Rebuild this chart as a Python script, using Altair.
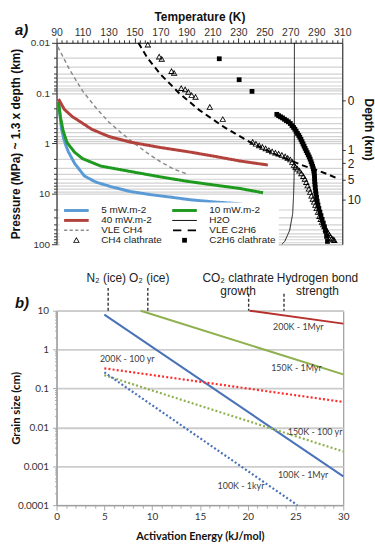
import altair as alt
import pandas as pd

# ------------------------------------------------------------------ panel a data
# legend entries (listed column by column: left column first, then right column)
SERIES = ["5 mW.m-2", "40 mW.m-2", "VLE CH4", "CH4 clathrate",
          "10 mW.m-2", "H2O", "VLE C2H6", "C2H6 clathrate"]
SERIES_COLORS = ["#5b9bd5", "#b3423d", "#8c8c8c", "#000000",
                 "#1e9a1e", "#000000", "#000000", "#000000"]
LINE_SERIES = ["5 mW.m-2", "10 mW.m-2", "40 mW.m-2", "H2O", "VLE CH4", "VLE C2H6"]
LINE_COLORS = ["#5b9bd5", "#1e9a1e", "#b3423d", "#000000", "#8c8c8c", "#000000"]
LINE_DASH = [[1, 0], [1, 0], [1, 0], [1, 0], [4, 3], [6, 4]]

flux5_T = [91.5, 92.5, 93.8, 95.5, 97.5, 99.2, 104, 111.4, 120, 132, 147, 163, 180, 193, 212, 231, 249]
flux5_P = [0.14, 0.25, 0.5, 0.8, 1.15, 1.48, 2.5, 4.4, 5.8, 7.2, 9.0, 10.4, 11.8, 13.1, 14.5, 15.7, 18.8]

flux10_T = [91.5, 93, 95, 98, 103.8, 110, 124, 147, 170, 190, 210, 231, 249]
flux10_P = [0.15, 0.3, 0.55, 0.95, 1.48, 2.0, 2.8, 3.6, 4.6, 5.6, 6.6, 7.8, 9.5]

flux40_T = [91.5, 96, 102, 109, 117, 130, 147, 170, 193, 212, 231, 252.7]
flux40_P = [0.13, 0.21, 0.29, 0.38, 0.52, 0.72, 0.94, 1.2, 1.48, 1.8, 2.22, 2.67]

h2o_T = [273.15, 273.1, 272.9, 272.5, 271.8, 269.5, 265.7, 263.5]
h2o_P = [0.01, 1, 5, 11, 25, 53, 88, 100]

vle_ch4_T = [91, 100, 110, 120, 130, 140, 150, 160, 170, 180, 191.5]
vle_ch4_P = [0.012, 0.034, 0.09, 0.19, 0.37, 0.62, 1.0, 1.55, 2.3, 3.2, 4.1]

vle_c2h6_T = [153, 160, 170, 184.6, 200, 220, 231, 240, 260, 280, 292, 300, 306]
vle_c2h6_P = [0.01, 0.02, 0.042, 0.101, 0.217, 0.49, 0.71, 0.97, 1.7, 2.75, 3.5, 4.2, 4.9]

ch4_clath_T = [160.3, 169, 171, 178.5, 180.5, 186, 189, 191.5, 194, 197, 208, 218,
               241, 243.5, 246, 248.5, 251, 253.5, 256, 258.5, 261, 263.5, 266, 268, 270,
               271.5, 272.8, 274, 275.5, 277, 278.5, 280, 281.2, 282.3, 283.3, 284.3, 285.3,
               286.3, 287.3, 288.3, 289.3, 290.3, 291.3, 292.4, 293.4, 294.4, 295.4, 296.3,
               297.3, 298.3, 299.2, 300.1, 301, 302, 303, 303.9]
ch4_clath_P = [0.011, 0.019, 0.021, 0.037, 0.040, 0.08, 0.085, 0.095, 0.11, 0.12, 0.19, 0.33,
               0.94, 1.02, 1.1, 1.18, 1.26, 1.36, 1.45, 1.53, 1.6, 1.7, 1.82, 1.95, 2.1,
               2.35, 2.7, 2.95, 3.2, 3.5, 3.95, 4.5, 5.1, 5.9, 6.9, 8.0, 9.3,
               11, 12.7, 14.5, 16.8, 19.5, 23, 28, 32, 36.5, 41, 45,
               50, 56, 61, 67, 72, 77, 81, 84]

c2h6_clath_T = [215.3, 230.6, 240.5,
                259.6, 261, 262.5, 264, 265.5, 267, 268.5, 270, 271.3, 272.5, 273.5, 274.5,
                275.5, 276.5, 277.3, 278.2, 279, 279.8, 280.6, 281.4, 282.2, 283, 283.8,
                284.6, 285.3, 286, 286.6, 287.2, 287.7, 288.1, 288.4, 288.6, 288.7, 288.8,
                289, 289.2, 289.5, 289.8, 290.2, 290.7, 291.3, 292, 292.8, 293.6, 294.5,
                295.4, 296.3, 297.1, 297.9, 298.6]
c2h6_clath_P = [0.0207, 0.054, 0.092,
                0.263, 0.28, 0.295, 0.31, 0.33, 0.35, 0.37, 0.4, 0.44, 0.48, 0.52, 0.57,
                0.63, 0.69, 0.75, 0.83, 0.92, 1.02, 1.13, 1.25, 1.38, 1.52, 1.68,
                1.85, 2.05, 2.3, 2.55, 2.85, 3.15, 3.5, 3.9, 4.4, 5.0, 5.7,
                6.5, 7.5, 8.7, 10, 11.8, 14, 16.5, 19.5, 23, 27, 32,
                38, 45, 55, 70, 88]

depth_km = [0, 1, 2, 5, 10]
depth_pressure = [0.137, 1.33, 2.44, 5.27, 13.1]

temp_ticks = list(range(90, 311, 4))
p_ticks = [round(m * 10 ** e, 6) for e in range(-2, 2) for m in range(1, 10)] + [100]

# ------------------------------------------------------------------ panel b data
B_SOLID = ["100K - 1Myr", "150K - 1Myr", "200K - 1Myr"]
B_DOTTED = ["200K - 100 yr", "150K - 100 yr", "100K - 1kyr"]
B_SERIES = B_SOLID + B_DOTTED
B_COLORS = ["#4a72b8", "#8fb04e", "#b7302b", "#ff2b2b", "#8fb04e", "#4a72b8"]
b_ea_start = [5, 8.8, 20.2, 5, 5, 5]
b_ea_end = [30, 30, 30, 30, 30, 25.2]
b_gs_start = [7.9, 10, 10, 0.33, 0.22, 0.26]
b_gs_end = [5.5e-4, 0.23, 4.65, 0.045, 0.0024, 1.0e-4]

lbl_text = ["200K - 100 yr", "200K - 1Myr", "150K - 1Myr", "150K - 100 yr",
            "100K - 1Myr", "100K - 1kyr"]
lbl_ea = [7.4, 25.3, 25.1, 27.05, 25.8, 19.3]
lbl_gs = [0.586, 3.75, 0.338, 0.0074, 5.8e-4, 3.1e-4]

mark_label = ["N\u2082 (ice)", "O\u2082 (ice)", "CO\u2082 clathrate\ngrowth",
              "Hydrogen bond\nstrength"]
mark_ea = [5.4, 9.55, 20.1, 23.8]
mark_label_ea = [5.2, 9.7, 19.0, 27.3]

ea_ticks = list(range(0, 31))
gs_ticks = [round(m * 10 ** e, 8) for e in range(-4, 1) for m in range(1, 10)] + [10]

# ------------------------------------------------------------------ styles
def bar_path(segments, half):
    return " ".join(f"M{a},{-half}H{b}V{half}H{a}Z" for a, b in segments)

SOLID_THICK = bar_path([(-3.1, 3.1)], 0.37)
SHAPES = [
    SOLID_THICK,                                                                          # 5 mW
    SOLID_THICK,                                                                          # 40 mW
    bar_path([(-3.1, -2.3), (-1.7, -0.9), (-0.3, 0.5), (1.1, 1.9), (2.5, 3.1)], 0.19),    # VLE CH4
    "M0,-0.85L0.85,0.65L-0.85,0.65Z M0,-0.42L-0.5,0.42L0.5,0.42Z",                        # CH4 clathrate
    SOLID_THICK,                                                                          # 10 mW
    bar_path([(-3.1, 3.1)], 0.12),                                                        # H2O
    bar_path([(-2.9, -0.8), (0.8, 2.9)], 0.22),                                           # VLE C2H6
    "M-0.6,-0.6H0.6V0.6H-0.6Z",                                                           # C2H6 clathrate
]

FA = "Liberation Sans"
FB = "Lato"

# ------------------------------------------------------------------ panel a
def line_df(name, T, P):
    return pd.DataFrame({"series": name, "T": T, "P": P, "i": range(len(T))})

df_flux = pd.concat([line_df("5 mW.m-2", flux5_T, flux5_P),
                     line_df("10 mW.m-2", flux10_T, flux10_P),
                     line_df("40 mW.m-2", flux40_T, flux40_P)])
df_h2o = line_df("H2O", h2o_T, h2o_P)
df_vch4 = line_df("VLE CH4", vle_ch4_T, vle_ch4_P)
df_vc2h6 = line_df("VLE C2H6", vle_c2h6_T, vle_c2h6_P)
df_pts = pd.concat([line_df("CH4 clathrate", ch4_clath_T, ch4_clath_P),
                    line_df("C2H6 clathrate", c2h6_clath_T, c2h6_clath_P)])

major_a = "indexof([0.01,0.1,1,10,100], datum.value) >= 0"
x_a = alt.X("T:Q", scale=alt.Scale(domain=[90, 310], nice=False, zero=False),
            axis=alt.Axis(orient="top", values=temp_ticks, title="Temperature (K)",
                          labelExpr="(datum.value - 90) % 20 == 0 ? datum.label : ''",
                          tickSize={"condition": {"test": "(datum.value - 90) % 20 == 0", "value": 5}, "value": 3},
                          labelOverlap=False, labelFlush=False, grid=False,
                          labelFont=FA, labelFontSize=10.5, labelColor="#333", labelPadding=0,
                          titleFont=FA, titleFontSize=12, titleFontWeight="bold", titleColor="#111",
                          titlePadding=5, domainColor="#333", tickColor="#333"))
y_scale_a = alt.Scale(type="log", domain=[0.01, 100], reverse=True, nice=False)
y_a = alt.Y("P:Q", scale=y_scale_a,
            axis=alt.Axis(orient="left", values=p_ticks, format="~g",
                          labelExpr=major_a + " ? datum.label : ''",
                          tickSize={"condition": {"test": major_a, "value": 5}, "value": 3},
                          labelOverlap=False, grid=True, gridColor="#d2d2d2", gridWidth=1.2,
                          labelFont=FA, labelFontSize=10, labelColor="#333", labelPadding=2,
                          title="Pressure (MPa) ~ 1.3 x depth (km)", titleFont=FA,
                          titleFontSize=12, titleFontWeight="bold", titleColor="#111",
                          titleX=-34, domainColor="#333", tickColor="#333"))
stroke_a = alt.Stroke("series:N", scale=alt.Scale(domain=LINE_SERIES, range=LINE_COLORS), legend=None)
dash_a = alt.StrokeDash("series:N", scale=alt.Scale(domain=LINE_SERIES, range=LINE_DASH), legend=None)
order_a = alt.Order("i:Q")

def lines_a(df, width):
    return alt.Chart(df).mark_line(strokeWidth=width).encode(
        x=x_a, y=y_a, stroke=stroke_a, strokeDash=dash_a, order=order_a)

points_a = alt.Chart(df_pts).mark_point(filled=True, size=64, opacity=1, strokeWidth=0).encode(
    x=x_a, y=y_a,
    fill=alt.Fill("series:N", scale=alt.Scale(domain=SERIES, range=SERIES_COLORS), title=None),
    shape=alt.Shape("series:N", scale=alt.Scale(domain=SERIES, range=SHAPES), title=None),
)

inner_a = alt.layer(
    lines_a(df_vch4, 1.5),
    lines_a(df_vc2h6, 2),
    lines_a(df_h2o, 0.9),
    lines_a(df_flux, 3),
    points_a,
)

depth_expr = " : ".join(f"datum.value == {p} ? '{d}'" for p, d in zip(depth_pressure, depth_km)) + " : ''"
df_depth = pd.DataFrame({"P": depth_pressure, "depth": depth_km})
right_a = alt.Chart(df_depth).mark_point(opacity=0).encode(
    y=alt.Y("P:Q", scale=y_scale_a,
            axis=alt.Axis(orient="right", values=depth_pressure, labelExpr=depth_expr,
                          labelOverlap=False, grid=False, tickSize=3,
                          labelFont=FA, labelFontSize=12, labelColor="#222", labelPadding=2,
                          title="Depth (km)", titleFont=FA, titleFontSize=12, titleY=87,
                          titleX=26, titleBaseline="middle",
                          titleFontWeight="bold", titleColor="#111",
                          domainColor="#333", tickColor="#333")))

panel_a = alt.layer(inner_a, right_a).resolve_scale(y="independent").properties(
    width=288, height=203,
    title=alt.TitleParams("a)", anchor="start", frame="group", dx=-42, dy=28, offset=0,
                          fontSize=15, fontStyle="italic", fontWeight="bold", font=FA, color="#111"))

# ------------------------------------------------------------------ panel b
df_b = pd.concat([
    pd.DataFrame({"series": B_SERIES, "ea": b_ea_start, "gs": b_gs_start, "i": 0}),
    pd.DataFrame({"series": B_SERIES, "ea": b_ea_end, "gs": b_gs_end, "i": 1}),
])
df_lbl = pd.DataFrame({"label": lbl_text, "ea": lbl_ea, "gs": lbl_gs})
df_mark = pd.DataFrame({"label": mark_label, "ea": mark_ea})
df_mark["two_lines"] = df_mark["label"].str.contains("\n")
df_mark_text = pd.DataFrame({"label": mark_label, "ea": mark_label_ea})

major_b = "indexof([0.0001,0.001,0.01,0.1,1,10], datum.value) >= 0"
x_b = alt.X("ea:Q", scale=alt.Scale(domain=[0, 30], nice=False, zero=False),
            axis=alt.Axis(values=ea_ticks, title="Activation Energy (kJ/mol)",
                          labelExpr="datum.value % 5 == 0 ? datum.label : ''",
                          tickSize={"condition": {"test": "datum.value % 5 == 0", "value": 5}, "value": 3},
                          labelOverlap=False, labelFlush=False, grid=False,
                          labelFont=FB, labelFontSize=10, labelColor="#333", labelPadding=1,
                          titleFont=FB, titleFontSize=11, titleFontWeight="bold", titleColor="#111",
                          titlePadding=10, domainColor="#999", tickColor="#aaa"))
y_b = alt.Y("gs:Q", scale=alt.Scale(type="log", domain=[0.0001, 10], nice=False),
            axis=alt.Axis(values=gs_ticks, format="~g",
                          labelExpr=major_b + " ? datum.label : ''",
                          tickSize={"condition": {"test": major_b, "value": 4}, "value": 2},
                          gridOpacity={"condition": {"test": major_b, "value": 1}, "value": 0},
                          labelOverlap=False, grid=True, gridColor="#cccccc", gridWidth=1.8,
                          labelFont=FB, labelFontSize=10, labelColor="#333", labelPadding=4,
                          title="Grain size (cm)", titleFont=FB, titleFontSize=11.5,
                          titleFontWeight="bold", titleColor="#111", titleX=-35,
                          domainColor="#999", tickColor="#aaa"))
color_b = alt.Color("series:N", scale=alt.Scale(domain=B_SERIES, range=B_COLORS), legend=None)

lines_b_solid = alt.Chart(df_b).transform_filter(
    alt.FieldOneOfPredicate(field="series", oneOf=B_SOLID)).mark_line(strokeWidth=2).encode(
    x=x_b, y=y_b, color=color_b, detail="series:N", order="i:Q")
lines_b_dotted = alt.Chart(df_b).transform_filter(
    alt.FieldOneOfPredicate(field="series", oneOf=B_DOTTED)).mark_line(
    strokeWidth=2.2, strokeDash=[2, 2.2]).encode(
    x=x_b, y=y_b, color=color_b, detail="series:N", order="i:Q")

labels_b = alt.Chart(df_lbl).mark_text(font=FB, fontSize=9, color="#404040").encode(
    x=x_b, y=y_b, text="label:N")

mark_text_b = alt.Chart(df_mark_text).mark_text(
    font=FA, fontSize=12, color="#222", baseline="top", lineBreak="\n", lineHeight=13).encode(
    x=x_b, y=alt.value(-38), text="label:N")

rule_one = alt.Chart(df_mark).transform_filter("!datum.two_lines").mark_rule(
    strokeDash=[3, 2], color="#333", strokeWidth=1.4).encode(
    x=x_b, y=alt.value(-23), y2=alt.value(0))
rule_two = alt.Chart(df_mark).transform_filter("datum.two_lines").mark_rule(
    strokeDash=[3, 2], color="#333", strokeWidth=1.4).encode(
    x=x_b, y=alt.value(-17), y2=alt.value(0))

panel_b = alt.layer(lines_b_solid, lines_b_dotted, labels_b, rule_one, rule_two,
                    mark_text_b).properties(
    width=289, height=196,
    title=alt.TitleParams("b)", anchor="start", frame="group", dx=-42, dy=42, offset=3,
                          fontSize=15, fontStyle="italic", fontWeight="bold", font=FA, color="#111"))

chart = alt.vconcat(panel_a, panel_b, spacing=67, bounds="flush").properties(
    padding={"left": 9, "top": 7, "right": 0, "bottom": 0}
).configure_view(stroke="#888", strokeWidth=1).configure_legend(
    orient="none", legendX=3, legendY=161, direction="vertical", columns=2,
    symbolSize=64, symbolOffset=9,
    labelOffset=20, labelFont=FA, labelFontSize=10, labelColor="#222",
    fillColor="white", padding=3, rowPadding=0, columnPadding=8,
    symbolStrokeWidth=0, labelLimit=0)

chart.save("out.html", embed_options={"renderer": "svg", "actions": False})
